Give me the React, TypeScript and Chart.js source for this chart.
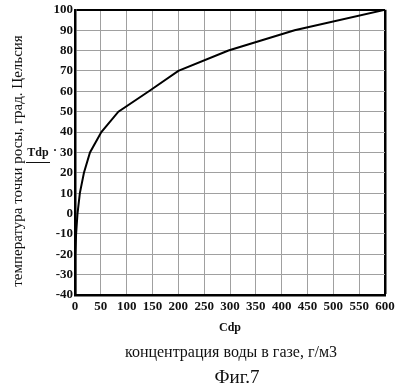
import React, { useEffect, useRef } from "react";
import { Chart, registerables } from "chart.js";

Chart.register(...registerables);

const cdp = [0.12, 0.34, 0.88, 2.14, 4.85, 9.4, 17.3, 29, 51, 84, 143, 200, 297, 425, 600];
const tdp = [-40, -30, -20, -10, 0, 10, 20, 30, 40, 50, 60, 70, 80, 90, 100];
const xTicks = [0, 50, 100, 150, 200, 250, 300, 350, 400, 450, 500, 550, 600];
const yTicks = [-40, -30, -20, -10, 0, 10, 20, 30, 40, 50, 60, 70, 80, 90, 100];

const yTitle = "температура точки росы, град. Цельсия";
const yLabel = "Tdp";
const xLabel = "Cdp";
const xTitle = "концентрация воды в газе, г/м3";
const figCaption = "Фиг.7";

const serif = '"Liberation Serif", "DejaVu Serif", serif';

export default function App() {
  const ref = useRef<HTMLCanvasElement>(null);
  useEffect(() => {
    const canvas = ref.current!;
    const chart = new Chart(canvas, {
      type: "line",
      data: {
        datasets: [
          {
            data: cdp.map((x, i) => ({ x, y: tdp[i] })),
            borderColor: "#000",
            borderWidth: 2,
            pointRadius: 0,
            tension: 0,
            fill: false,
          },
        ],
      },
      options: {
        responsive: false,
        animation: false,
        plugins: { legend: { display: false }, tooltip: { enabled: false } },
        layout: { padding: { left: 0, top: 6, right: 15, bottom: 61 } },
        scales: {
          x: {
            type: "linear",
            min: 0,
            max: 600,
            afterFit: (s: any) => { s.height = 30; },
            afterBuildTicks: (s: any) => { s.ticks = xTicks.map((v) => ({ value: v })); },
            grid: {
              color: (c: any) => (c.tick && (c.tick.value === 600 || c.tick.value === 0) ? "#000" : "#a0a0a0"),
              lineWidth: (c: any) => (c.tick && c.tick.value === 600 ? 2.5 : 1),
              drawTicks: false,
            },
            border: { color: "#000", width: 2.5 },
            ticks: {
              color: "#111",
              padding: 4,
              maxRotation: 0,
              autoSkip: false,
              font: { family: serif, size: 13, weight: "bold" },
            },
          },
          y: {
            type: "linear",
            min: -40,
            max: 100,
            afterFit: (s: any) => { s.width = 75; },
            afterBuildTicks: (s: any) => { s.ticks = yTicks.map((v) => ({ value: v })); },
            grid: {
              color: (c: any) => (c.tick && c.tick.value === 100 ? "#000" : "#a0a0a0"),
              lineWidth: (c: any) => (c.tick && c.tick.value === 100 ? 2 : 1),
              drawTicks: false,
            },
            border: { color: "#000", width: 2.5 },
            ticks: {
              color: "#111",
              padding: 2,
              autoSkip: false,
              font: { family: serif, size: 13, weight: "bold" },
            },
          },
        },
      },
    });
    return () => chart.destroy();
  }, []);

  const abs: React.CSSProperties = { position: "absolute", whiteSpace: "nowrap", color: "#111", fontFamily: serif };

  return (
    <div style={{ position: "fixed", left: 0, top: 0, width: 400, height: 386, background: "#fff", overflow: "hidden" }}>
      <canvas ref={ref} width={400} height={386} style={{ position: "absolute", left: 0, top: 0 }} />
      <div
        style={{
          ...abs,
          left: 17,
          top: 161,
          fontSize: 15,
          transform: "translate(-50%, -50%) rotate(-90deg)",
        }}
      >
        {yTitle}
      </div>
      <div style={{ ...abs, left: 26, top: 145, width: 24, textAlign: "center", fontSize: 12, fontWeight: "bold", lineHeight: "14px", borderBottom: "1.5px solid #111", paddingBottom: 3 }}>
        {yLabel}
      </div>
      <div style={{ ...abs, left: 53, top: 143, fontSize: 12, fontWeight: "bold" }}>·</div>
      <div style={{ ...abs, left: 230, top: 327, fontSize: 12, fontWeight: "bold", transform: "translate(-50%, -50%)" }}>{xLabel}</div>
      <div style={{ ...abs, left: 231, top: 352, fontSize: 16, transform: "translate(-50%, -50%)" }}>{xTitle}</div>
      <div style={{ ...abs, left: 237, top: 377, fontSize: 19, transform: "translate(-50%, -50%)" }}>{figCaption}</div>
    </div>
  );
}
